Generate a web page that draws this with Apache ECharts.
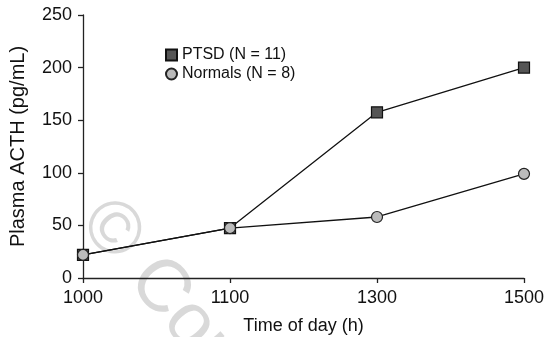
<!DOCTYPE html>
<html><head><meta charset="utf-8">
<script src="https://cdn.jsdelivr.net/npm/echarts@6/dist/echarts.min.js"></script>
<style>html,body{margin:0;padding:0;background:#fff}#c{width:547px;height:337px}</style>
</head><body><div id="c"></div>
<script>
var categories = ['1000', '1100', '1300', '1500'];
var ptsd = [22, 47.5, 157.5, 200];
var normals = [22, 47.5, 58, 99];
var yTicks = [0, 50, 100, 150, 200, 250];

var chart = echarts.init(document.getElementById('c'), null, {renderer: 'canvas'});
var font = 'Liberation Sans, Arial, sans-serif';
var axisCol = '#222';
chart.setOption({
  animation: false,
  backgroundColor: '#fff',
  grid: {left: 83, right: 23, top: 15, bottom: 59, containLabel: false, outerBoundsMode: 'none'},
  legend: {
    orient: 'vertical', left: 160, top: 42, itemWidth: 11, itemHeight: 11, itemGap: 3,
    textStyle: {fontFamily: font, fontSize: 16, color: '#111'},
    data: [
      {name: 'PTSD (N = 11)', icon: 'rect'},
      {name: 'Normals (N = 8)', icon: 'circle'}
    ]
  },
  xAxis: {
    type: 'category', data: categories, boundaryGap: false,
    name: 'Time of day (h)', nameLocation: 'middle', nameGap: 39,
    nameTextStyle: {fontFamily: font, fontSize: 18, color: '#111'},
    axisLine: {lineStyle: {color: axisCol, width: 1.3}},
    axisTick: {length: 5, lineStyle: {color: axisCol, width: 1.3}, alignWithLabel: true},
    axisLabel: {fontFamily: font, fontSize: 18, color: '#111', margin: 11},
    splitLine: {show: false}
  },
  yAxis: {
    type: 'value', min: yTicks[0], max: yTicks[yTicks.length - 1], interval: 50,
    name: 'Plasma ACTH (pg/mL)', nameLocation: 'middle', nameGap: 55,
    nameTextStyle: {fontFamily: font, fontSize: 20, color: '#111'},
    axisLine: {show: true, lineStyle: {color: axisCol, width: 1.3}},
    axisTick: {show: true, length: 5, lineStyle: {color: axisCol, width: 1.3}},
    axisLabel: {fontFamily: font, fontSize: 18, color: '#111', margin: 11},
    splitLine: {show: false}
  },
  graphic: [{
    type: 'text', x: 122, y: 186, rotation: -0.87, z: 0,
    style: {text: '© Cop', fontFamily: font, fontSize: 74, fill: 'rgba(180,180,180,0.5)'}
  }],
  series: [
    {
      name: 'PTSD (N = 11)', type: 'line', data: ptsd, symbol: 'rect', symbolSize: 11,
      lineStyle: {color: '#111', width: 1.3},
      itemStyle: {color: '#555', borderColor: '#111', borderWidth: 1.2},
      z: 2
    },
    {
      name: 'Normals (N = 8)', type: 'line', data: normals, symbol: 'circle', symbolSize: 11,
      lineStyle: {color: '#111', width: 1.3},
      itemStyle: {color: '#bbb', borderColor: '#222', borderWidth: 1.2},
      z: 3
    }
  ]
});
</script></body></html>
